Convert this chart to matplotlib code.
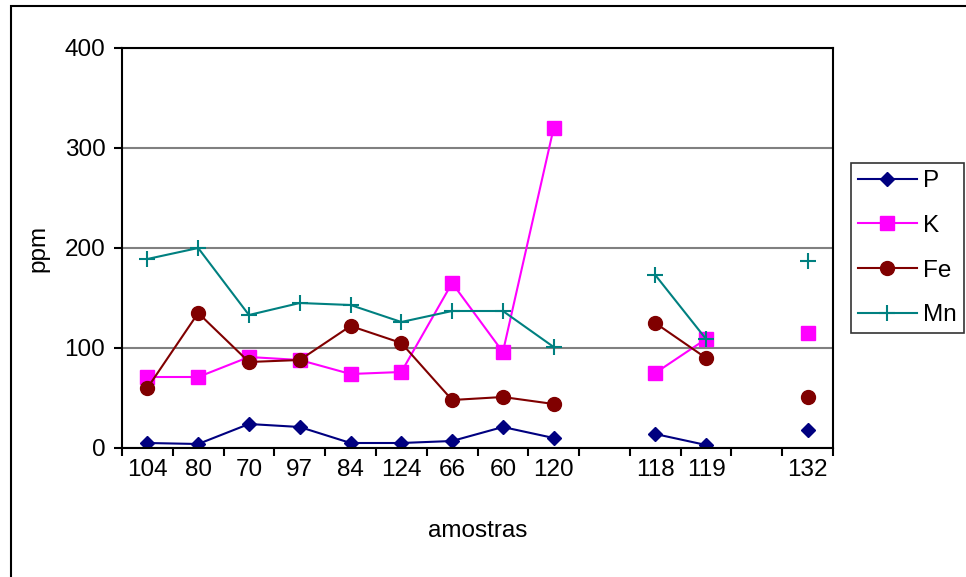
import matplotlib
matplotlib.use("Agg")
import matplotlib.pyplot as plt
from matplotlib.patches import Rectangle
import numpy as np

nan = np.nan

# amostras (categorias vazias entre 120/118 e 119/132)
amostras = ["104", "80", "70", "97", "84", "124", "66", "60", "120", "", "118", "119", "", "132"]

P = [5, 4, 24, 21, 5, 5, 7, 21, 10, nan, 14, 3, nan, 18]
K = [71, 71, 91, 88, 74, 76, 165, 96, 320, nan, 75, 109, nan, 115]
Fe = [60, 135, 86, 88, 122, 105, 48, 51, 44, nan, 125, 90, nan, 51]
Mn = [189, 200, 133, 145, 143, 126, 137, 137, 101, nan, 173, 109, nan, 187]

plt.rcParams['font.family'] = ['Liberation Sans', 'DejaVu Sans']

fig = plt.figure(figsize=(9.66, 5.77), dpi=100)
ax = fig.add_axes([122 / 966, 1 - 448 / 577, (833 - 122) / 966, 400 / 577])

x = np.arange(len(amostras))
lw = 1.5
ax.plot(x, P, color="#000080", marker="D", markersize=7.5, lw=lw, label="P")
ax.plot(x, K, color="#FF00FF", marker="s", markersize=9.5, lw=lw, label="K")
ax.plot(x, Fe, color="#800000", marker="o", markersize=10, lw=lw, label="Fe")
ax.plot(x, Mn, color="#008080", marker="+", markersize=11, mew=1.5, lw=lw, label="Mn")

ax.set_xlim(-0.5, len(amostras) - 0.5)
ax.set_ylim(0, 400)
ax.set_yticks([0, 100, 200, 300, 400])
ax.set_xticks(x)
ax.set_xticklabels(amostras)
ax.set_xticks(np.arange(-0.5, len(amostras)), minor=True)
ax.tick_params(axis="x", which="major", length=0, labelsize=17.5, pad=8)
ax.tick_params(axis="x", which="minor", length=6, width=1.5, direction="out")
ax.tick_params(axis="y", length=6, width=1.5, labelsize=17.5, pad=6)

ax.grid(axis="y", color="#808080", lw=1.5)
ax.set_axisbelow(True)
for s in ax.spines.values():
    s.set_linewidth(1.5)
    s.set_color("black")

ax.set_xlabel("amostras", fontsize=17.5, labelpad=28)
ax.set_ylabel("ppm", fontsize=17.5, labelpad=11)

leg = fig.legend(loc="upper left", bbox_to_anchor=(851 / 966, 1 - 163 / 577),
                 fontsize=17.5, frameon=True, fancybox=False, edgecolor="black",
                 handlelength=2.4, borderpad=0.3, labelspacing=0.93, handletextpad=0.25,
                 borderaxespad=0)
leg.get_frame().set_linewidth(1.2)

# moldura externa
fig.patches.append(Rectangle((11 / 966, -0.1), 1.2, 1.1 - 6 / 577,
                             transform=fig.transFigure, fill=False,
                             edgecolor="black", lw=1.5, clip_on=False))

plt.savefig("out.png", dpi=100)
